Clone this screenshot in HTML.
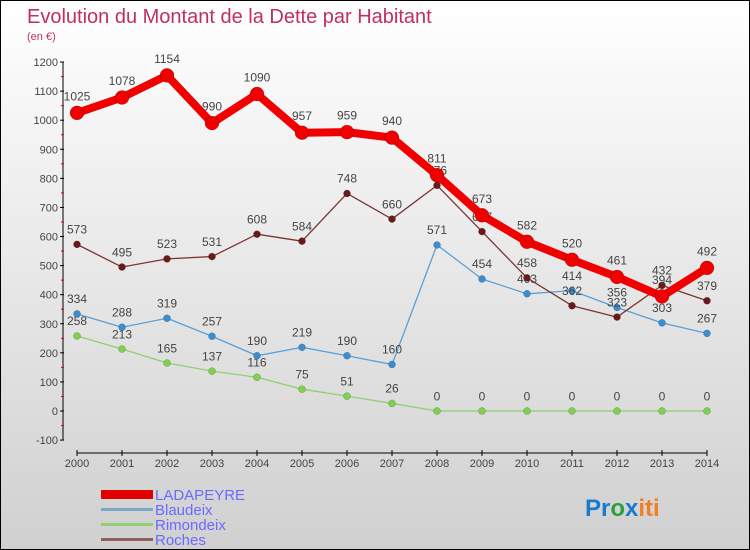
<!DOCTYPE html>
<html><head><meta charset="utf-8"><style>
body{margin:0}
#wrap{width:748px;height:548px;border:1px solid #000;background:linear-gradient(#ffffff,#d0d0d0);position:relative;overflow:hidden;font-family:"Liberation Sans",sans-serif}
</style></head><body>
<div id="wrap">
<svg id="svg" width="748" height="548" xmlns="http://www.w3.org/2000/svg">
<text x="26" y="22" font-size="20" fill="#c0305a">Evolution du Montant de la Dette par Habitant</text>
<text x="26" y="39" font-size="11" fill="#c0305a">(en €)</text>
<g id="axes"></g><g id="series"></g>
<rect x="100" y="489" width="52" height="9" fill="#e00000"/>
<rect x="100" y="507" width="52" height="3" fill="#7aa8c8"/>
<rect x="100" y="522" width="52" height="3" fill="#90d070"/>
<rect x="100" y="537" width="52" height="3" fill="#906060"/>
<g font-size="15" fill="#6a6aff">
<text x="154" y="499">LADAPEYRE</text>
<text x="154" y="514">Blaudeix</text>
<text x="154" y="529">Rimondeix</text>
<text x="154" y="544">Roches</text>
</g>
<text x="584" y="515" font-size="24" font-weight="bold"><tspan fill="#1a7ad0">Pr</tspan><tspan fill="#2aa040">o</tspan><tspan fill="#1a7ad0">x</tspan><tspan fill="#f08020">iti</tspan></text>
</svg></div>
<script>
const years=[2000,2001,2002,2003,2004,2005,2006,2007,2008,2009,2010,2011,2012,2013,2014];
const yTicks=[-100,0,100,200,300,400,500,600,700,800,900,1000,1100,1200];
const ladapeyre=[1025,1078,1154,990,1090,957,959,940,811,673,582,520,461,394,492];
const blaudeix=[334,288,319,257,190,219,190,160,571,454,403,414,356,303,267];
const rimondeix=[258,213,165,137,116,75,51,26,0,0,0,0,0,0,0];
const roches=[573,495,523,531,608,584,748,660,776,617,458,362,323,432,379];
const NS="http://www.w3.org/2000/svg";
const X=i=>76+i*45;
const Y=v=>410-v*0.2908;
function mk(t,a,p){const e=document.createElementNS(NS,t);for(const k in a)e.setAttribute(k,a[k]);p.appendChild(e);return e;}
const ax=document.getElementById('axes');
let l=mk('line',{x1:62,y1:Y(1200),x2:62,y2:Y(-100),stroke:'#000'},ax);


l=mk('line',{x1:76,y1:452,x2:706,y2:452,stroke:'#000'},ax);


yTicks.forEach(v=>{
 mk('line',{x1:59,y1:Y(v),x2:63,y2:Y(v),stroke:'#000'},ax);
 if(v<1200) mk('line',{x1:60,y1:Y(v+50),x2:63,y2:Y(v+50),stroke:'#e00000'},ax);
 const t=mk('text',{x:57,y:Y(v)+4,'font-size':11,'text-anchor':'end',fill:'#444'},ax);
 t.textContent=v;
 
 
});
years.forEach((y,i)=>{
 mk('line',{x1:X(i),y1:449,x2:X(i),y2:455,stroke:'#000'},ax);
 const t=mk('text',{x:X(i),y:466,'font-size':11,'text-anchor':'middle',fill:'#444'},ax);
 t.textContent=y;
 
 
});
const sg=document.getElementById('series');
function series(name,vals,color,w,r,dot){
 const g=mk('g',{},sg);
 
 
 mk('polyline',{points:vals.map((v,i)=>X(i)+','+Y(v)).join(' '),fill:'none',stroke:color,'stroke-width':w,'stroke-linejoin':'round'},g);
 vals.forEach((v,i)=>{
  const c=mk('circle',{cx:X(i),cy:Y(v),r:r,fill:dot,stroke:'rgba(0,0,0,0.3)','stroke-width':0.5},g);
  
  
  const t=mk('text',{x:X(i),y:Y(v)-9-r/2,'font-size':12,'text-anchor':'middle',fill:'#444'},g);
  t.textContent=v;
  
  
 });
}
series('rimondeix',rimondeix,'#90d070',1.3,3.5,'#80d050');
series('blaudeix',blaudeix,'#5aa0d8',1.3,3.5,'#3a8ed0');
series('roches',roches,'#7a3535',1.3,3.5,'#6a1a1a');
series('ladapeyre',ladapeyre,'#f00000',8,7,'#f00000');
</script>
</body></html>
